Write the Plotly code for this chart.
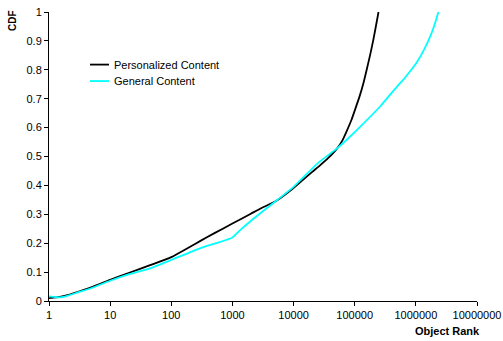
import plotly.graph_objects as go

# Personalized content: object rank vs cumulative fraction
pers_rank = [1, 1.5, 2, 3, 5, 10, 20, 45, 100, 200, 300, 500, 1000, 2000, 3000,
             5000, 10000, 20000, 26000, 37000, 52000, 63000, 74000, 89000, 102000,
             120000, 138000, 158000, 178000, 200000, 224000, 245000]
pers_cdf = [0.010, 0.014, 0.020, 0.032, 0.048, 0.073, 0.097, 0.124, 0.152,
            0.187, 0.208, 0.234, 0.268, 0.302, 0.322, 0.344, 0.391, 0.446, 0.466,
            0.495, 0.529, 0.556, 0.588, 0.628, 0.664, 0.708, 0.752, 0.803, 0.850,
            0.900, 0.955, 1.000]

# General content
gen_rank = [1, 1.3, 1.6, 2, 3, 5, 10, 20, 45, 100, 300, 1000, 1350, 1950, 3000,
            5600, 10000, 25000, 52000, 74000, 110000, 260000, 525000, 590000,
            800000, 1050000, 1350000, 1740000, 2000000, 2340000]
gen_cdf = [0.016, 0.013, 0.013, 0.018, 0.030, 0.045, 0.070, 0.092, 0.113, 0.142,
           0.183, 0.220, 0.246, 0.275, 0.307, 0.352, 0.395, 0.477, 0.529, 0.558,
           0.593, 0.673, 0.749, 0.760, 0.794, 0.828, 0.868, 0.918, 0.953, 1.000]

x_tickvals = [1, 10, 100, 1000, 10000, 100000, 1000000, 10000000]
x_ticktext = ["1", "10", "100", "1000", "10000", "100000", "1000000", "10000000"]
y_tickvals = [0, 0.1, 0.2, 0.3, 0.4, 0.5, 0.6, 0.7, 0.8, 0.9, 1]
y_ticktext = ["0", "0.1", "0.2", "0.3", "0.4", "0.5", "0.6", "0.7", "0.8", "0.9", "1"]

series_names = ["Personalized Content", "General Content"]
series_colors = ["#000000", "#00FFFF"]

font = "Liberation Sans, Arial, sans-serif"

fig = go.Figure()
for name, color, xs, ys in zip(series_names, series_colors,
                               [pers_rank, gen_rank], [pers_cdf, gen_cdf]):
    fig.add_trace(go.Scatter(x=xs, y=ys, mode="lines", name=name,
                             line=dict(color=color, width=1.8, shape="spline",
                                       smoothing=0.5)))

axis_common = dict(showgrid=False, zeroline=False, showline=True, linecolor="black",
                   linewidth=1, ticks="outside", ticklen=4, tickcolor="black",
                   tickfont=dict(size=11, family=font, color="#000000"),
                   automargin=False)

# Hand-drawn legend box (short line samples next to labels)
legend_y = [0.818, 0.761]
shapes = []
annotations = []
for name, color, ly in zip(series_names, series_colors, legend_y):
    shapes.append(dict(type="line", xref="paper", yref="paper", x0=0.0958, x1=0.1402,
                       y0=ly, y1=ly, line=dict(color=color, width=1.8)))
    annotations.append(dict(text=name, xref="paper", yref="paper", x=0.1472, y=ly,
                            xanchor="left", yanchor="middle", showarrow=False,
                            font=dict(size=11, family=font, color="#000000")))

annotations += [
    dict(text="<b>CDF</b>", xref="paper", yref="paper", x=-0.084, y=0.969,
         xanchor="center", yanchor="middle", textangle=-90, showarrow=False,
         font=dict(size=10, family=font, color="#000000")),
    dict(text="<b>Object Rank</b>", xref="paper", yref="paper", x=0.932, y=-0.104,
         xanchor="center", yanchor="middle", showarrow=False,
         font=dict(size=11, family=font, color="#000000")),
]

fig.update_layout(
    width=503, height=341,
    margin=dict(l=49, r=26, t=12, b=40),
    paper_bgcolor="white", plot_bgcolor="white",
    font=dict(family=font, size=11, color="#000000"),
    showlegend=False,
    xaxis=dict(type="log", range=[0, 7], tickvals=x_tickvals, ticktext=x_ticktext,
               **axis_common),
    yaxis=dict(range=[0, 1], tickvals=y_tickvals, ticktext=y_ticktext, **axis_common),
    shapes=shapes,
    annotations=annotations,
)

fig.write_html("out.html")
